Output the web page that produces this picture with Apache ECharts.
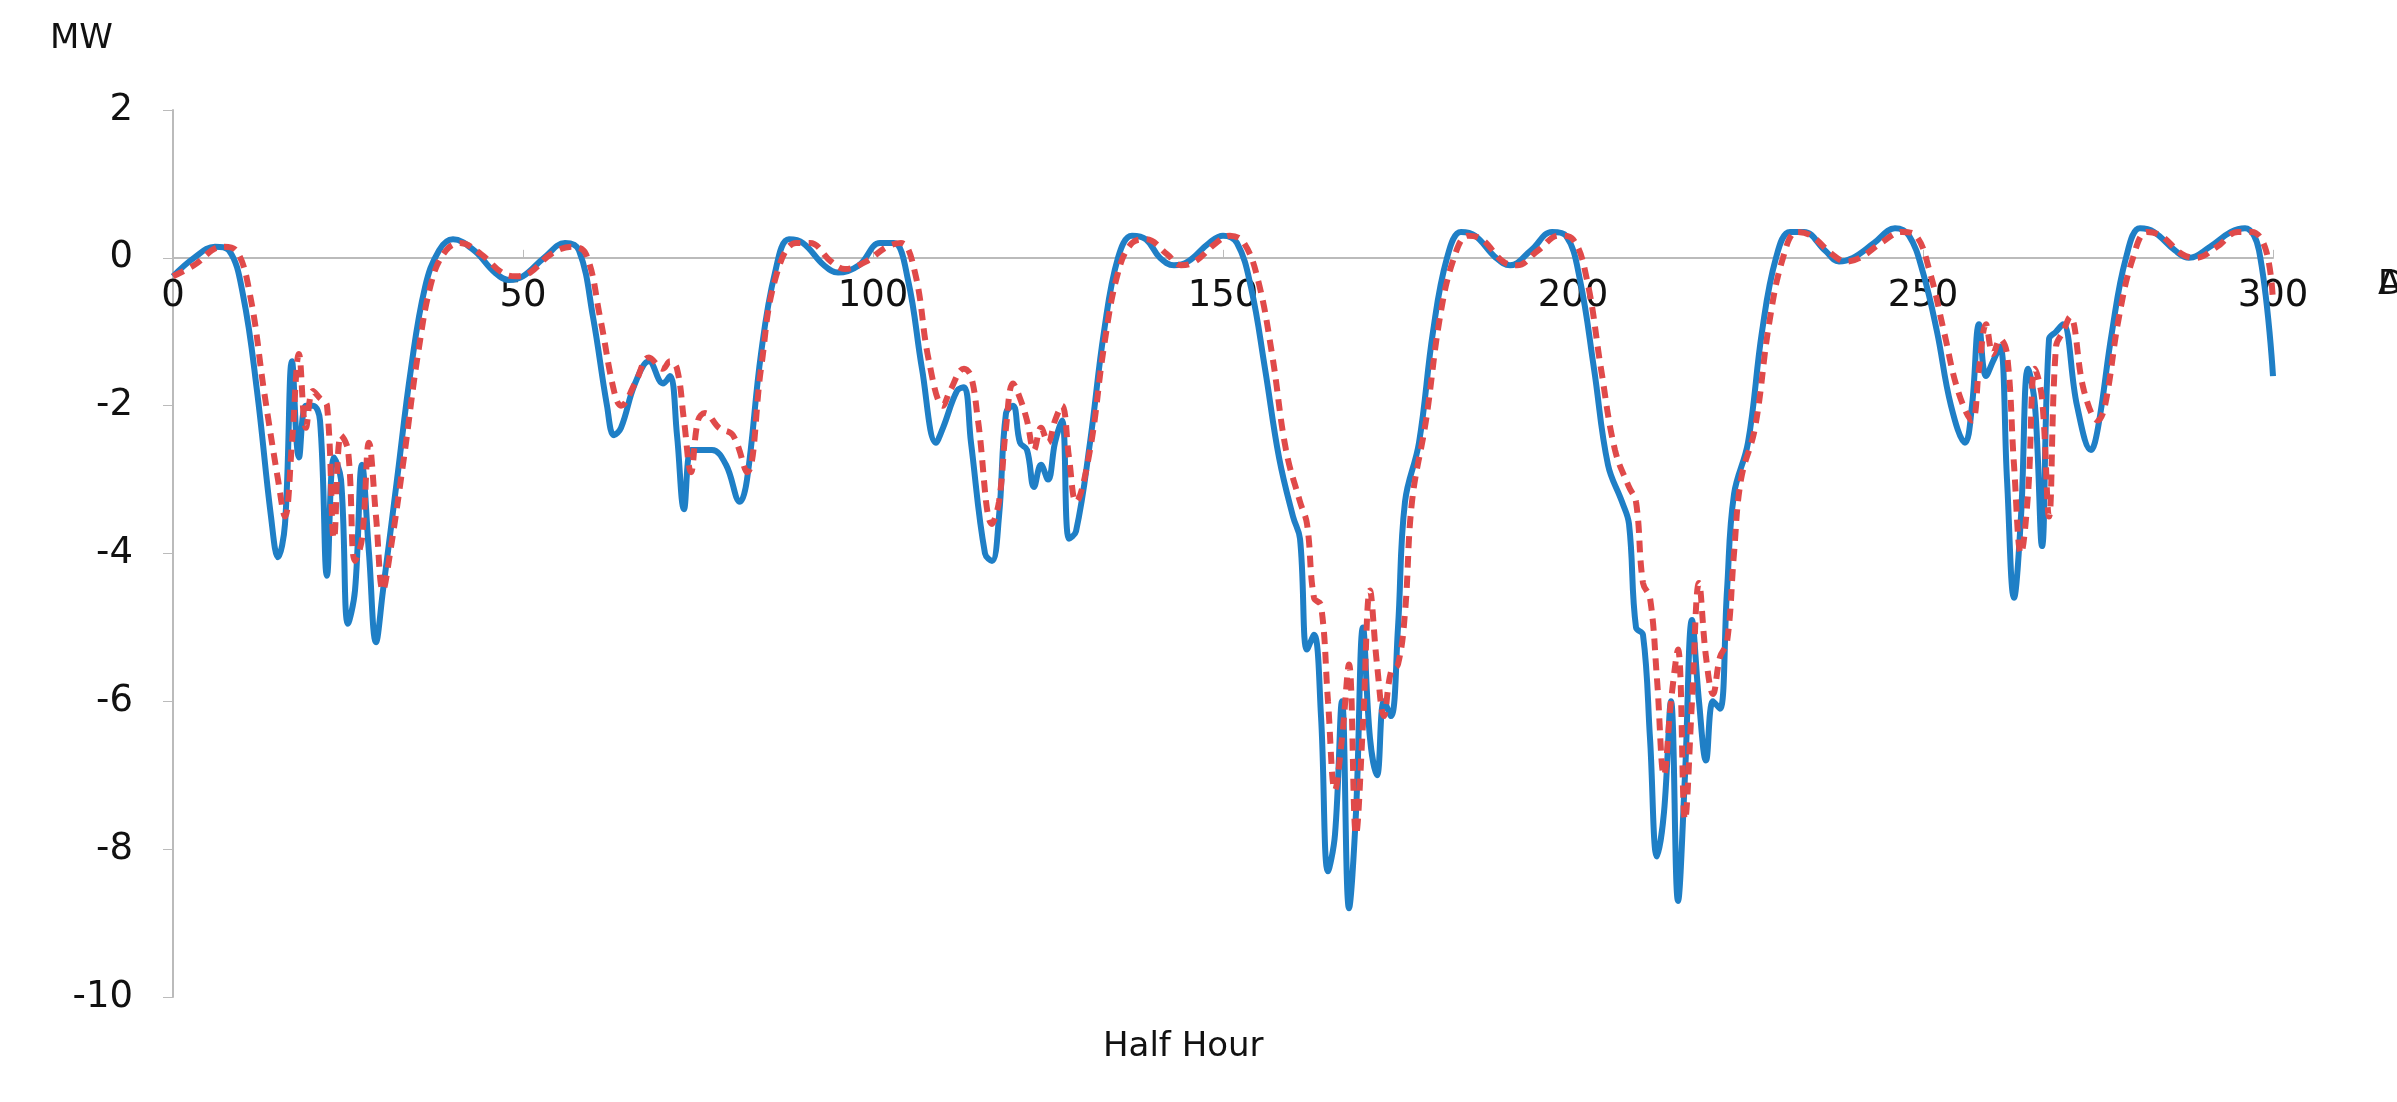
<!DOCTYPE html>
<html>
<head>
<meta charset="utf-8">
<script src="https://cdn.jsdelivr.net/npm/echarts@6/dist/echarts.min.js"></script>
<style>html,body{margin:0;padding:0;background:#fff}#main{width:2397px;height:1102px}</style>
</head>
<body>
<div id="main"></div>
<script>
// [half hour, MW]
var deseasoned = [
  [0,-0.25],[3,0],[6,0.15],[8,0.1],[10,-0.5],[12,-1.8],[14,-3.5],[15,-4.05],[16,-3.6],[17,-1.4],[18,-2.7],[19,-2.0],[20,-2.0],[21,-2.2],[22,-4.3],[23,-2.7],[24,-3],[25,-4.95],[26,-4.5],[27,-2.8],[28,-4],[29,-5.2],[30,-4.5],[32,-3],[34,-1.5],[36,-0.4],[38,0.1],[40,0.25],[43,0.1],[46,-0.2],[48,-0.3],[50,-0.25],[53,0],[56,0.2],[58,0.1],[60,-0.8],[62,-2.0],[63,-2.4],[64,-2.3],[66,-1.7],[68,-1.4],[70,-1.7],[71,-1.6],[72,-2.4],[73,-3.4],[74,-2.6],[75,-2.6],[77,-2.6],[79,-2.8],[81,-3.3],[82,-3.0],[84,-1.3],[86,-0.2],[88,0.25],[90,0.2],[93,-0.1],[95,-0.2],[98,-0.1],[101,0.2],[103,0.2],[105,-0.3],[107,-1.5],[109,-2.5],[110,-2.3],[112,-1.8],[113,-1.75],[114,-2.5],[116,-4.0],[117,-4.1],[118,-3.5],[119,-2.1],[120,-2.0],[121,-2.5],[122,-2.6],[123,-3.1],[124,-2.8],[125,-3.0],[126,-2.5],[127,-2.2],[128,-3.8],[129,-3.7],[131,-2.5],[133,-1.0],[135,0.0],[137,0.3],[139,0.25],[141,0.0],[143,-0.1],[145,-0.05],[148,0.2],[150,0.3],[152,0.2],[154,-0.4],[156,-1.5],[158,-2.7],[160,-3.5],[161,-3.8],[162,-5.3],[163,-5.1],[164,-6.2],[165,-8.3],[166,-7.8],[167,-6.0],[168,-8.8],[169,-7.5],[170,-5.0],[171,-6.5],[172,-7.0],[173,-6.0],[174,-6.2],[175,-5.0],[176,-3.3],[178,-2.5],[180,-1.0],[182,0.0],[184,0.35],[186,0.3],[189,0.0],[191,-0.1],[194,0.1],[197,0.35],[199,0.3],[201,-0.3],[203,-1.5],[205,-2.8],[207,-3.3],[208,-3.6],[209,-5.0],[210,-5.1],[211,-6.5],[212,-8.1],[213,-7.5],[214,-6.0],[215,-8.7],[216,-7.0],[217,-4.9],[218,-6.0],[219,-6.8],[220,-6.0],[221,-6.1],[222,-4.5],[223,-3.2],[225,-2.5],[227,-1.0],[229,0.0],[231,0.35],[233,0.35],[236,0.1],[238,-0.05],[240,0.0],[243,0.2],[246,0.4],[248,0.3],[250,-0.2],[252,-1.0],[254,-2.0],[256,-2.5],[257,-2.0],[258,-0.9],[259,-1.6],[260,-1.4],[261,-1.2],[262,-3.0],[263,-4.6],[264,-3.5],[265,-1.5],[266,-2.0],[267,-3.9],[268,-1.1],[269,-1.0],[270,-0.9],[272,-2.0],[274,-2.6],[275,-2.3],[277,-1.0],[279,0.0],[281,0.4],[283,0.35],[286,0.1],[288,0.0],[291,0.15],[294,0.35],[296,0.4],[298,0.1],[300,-1.6]
];
var ar2 = [
  [0,-0.25],[3,-0.1],[7,0.15],[9,0.1],[11,-0.5],[13,-1.8],[15,-3.0],[16,-3.5],[17,-2.5],[18,-1.3],[19,-2.3],[20,-1.8],[21,-1.9],[22,-2.0],[23,-3.8],[24,-2.4],[25,-2.6],[26,-4.1],[27,-3.8],[28,-2.5],[29,-3.5],[30,-4.5],[31,-4.0],[33,-2.7],[35,-1.3],[37,-0.3],[39,0.1],[41,0.2],[44,0.05],[47,-0.2],[49,-0.25],[51,-0.2],[54,0.05],[57,0.15],[59,0.05],[61,-0.8],[63,-1.8],[64,-2.0],[66,-1.7],[68,-1.35],[70,-1.5],[71,-1.4],[72,-1.5],[73,-2.2],[74,-2.9],[75,-2.2],[76,-2.1],[78,-2.3],[80,-2.4],[82,-2.9],[84,-1.5],[86,-0.3],[89,0.2],[91,0.2],[94,-0.05],[96,-0.15],[99,-0.05],[102,0.15],[104,0.2],[106,-0.2],[108,-1.4],[110,-2.0],[111,-1.8],[113,-1.5],[114,-1.6],[115,-2.2],[117,-3.6],[118,-3.3],[119,-2.3],[120,-1.7],[121,-1.9],[122,-2.2],[123,-2.6],[124,-2.3],[125,-2.5],[126,-2.2],[127,-2.0],[128,-2.7],[129,-3.3],[131,-2.6],[133,-1.2],[135,-0.2],[137,0.2],[139,0.25],[142,0.05],[144,-0.1],[146,-0.05],[149,0.2],[151,0.3],[153,0.2],[155,-0.3],[157,-1.3],[159,-2.6],[161,-3.3],[162,-3.6],[163,-4.6],[164,-4.7],[165,-6.0],[166,-7.2],[167,-6.5],[168,-5.5],[169,-7.8],[170,-6.3],[171,-4.5],[172,-5.5],[173,-6.2],[174,-5.6],[175,-5.5],[176,-4.8],[177,-3.3],[179,-2.2],[181,-0.8],[183,0.0],[185,0.3],[187,0.25],[190,-0.05],[192,-0.1],[195,0.1],[198,0.3],[200,0.25],[202,-0.3],[204,-1.5],[206,-2.6],[208,-3.1],[209,-3.3],[210,-4.4],[211,-4.6],[212,-5.7],[213,-7.0],[214,-6.0],[215,-5.3],[216,-7.6],[217,-6.0],[218,-4.4],[219,-5.4],[220,-5.9],[221,-5.4],[222,-5.2],[223,-4.0],[224,-3.0],[226,-2.3],[228,-0.9],[230,0.0],[232,0.35],[234,0.3],[237,0.05],[239,-0.05],[241,0.0],[244,0.2],[247,0.35],[249,0.3],[251,-0.2],[253,-1.0],[255,-1.8],[257,-2.2],[258,-1.5],[259,-0.9],[260,-1.3],[261,-1.1],[262,-1.3],[263,-2.8],[264,-4.0],[265,-3.2],[266,-1.5],[267,-1.9],[268,-3.5],[269,-1.2],[270,-1.0],[271,-0.8],[273,-1.8],[275,-2.2],[276,-2.0],[278,-0.8],[280,0.0],[282,0.35],[284,0.3],[287,0.05],[289,0.0],[292,0.15],[295,0.35],[297,0.35],[299,0.1],[300,-0.6]
];
var seriesNames = ['Deseasoned', 'AR(2)'];

var chart = echarts.init(document.getElementById('main'));
var font = 'DejaVu Sans';
var gridBottom = 105, gridTop = 110;
// x axis sits on y = 0: 10/12 of plot height above the bottom
var zeroOffset = (1102 - gridTop - gridBottom) * 10 / 12;
chart.setOption({
  animation: false,
  backgroundColor: '#fff',
  textStyle: { fontFamily: font },
  graphic: [
    { type: 'text', left: 50, top: 22, style: { text: 'MW', font: '34px "DejaVu Sans"', fill: '#111' } },
    { type: 'text', left: 1103, top: 1030, style: { text: 'Half Hour', font: '34px "DejaVu Sans"', fill: '#111' } }
  ],
  legend: {
    right: 55, top: 56, icon: 'path://M0,0H1',
    itemWidth: 100, itemHeight: 14, itemGap: 24,
    textStyle: { fontSize: 34, color: '#111', fontFamily: font },
    data: seriesNames
  },
  grid: { left: 173, right: 124, top: gridTop, bottom: gridBottom },
  xAxis: {
    type: 'value', min: 0, max: 300, interval: 50,
    offset: -zeroOffset,
    axisLine: { onZero: false, lineStyle: { color: '#bbb', width: 2 } },
    axisTick: { show: true, inside: true, length: 8, lineStyle: { color: '#bbb' } },
    axisLabel: { fontSize: 37, color: '#111', margin: 20, fontFamily: font },
    splitLine: { show: false }
  },
  yAxis: {
    type: 'value', min: -10, max: 2, interval: 2,
    axisLine: { show: true, lineStyle: { color: '#bbb', width: 2 } },
    axisTick: { show: true, length: 10, lineStyle: { color: '#bbb' } },
    axisLabel: { fontSize: 37, color: '#111', margin: 40, fontFamily: font },
    splitLine: { show: false }
  },
  series: [
    { name: seriesNames[0], type: 'line', data: deseasoned, smooth: 0.4, symbol: 'none',
      lineStyle: { color: '#1f7fc6', width: 6 }, itemStyle: { color: '#1f7fc6' }, z: 2 },
    { name: seriesNames[1], type: 'line', data: ar2, smooth: 0.4, symbol: 'none',
      lineStyle: { color: '#e04a4a', width: 6, type: [12, 8] }, itemStyle: { color: '#e04a4a' }, z: 3 }
  ]
});
</script>
</body>
</html>
